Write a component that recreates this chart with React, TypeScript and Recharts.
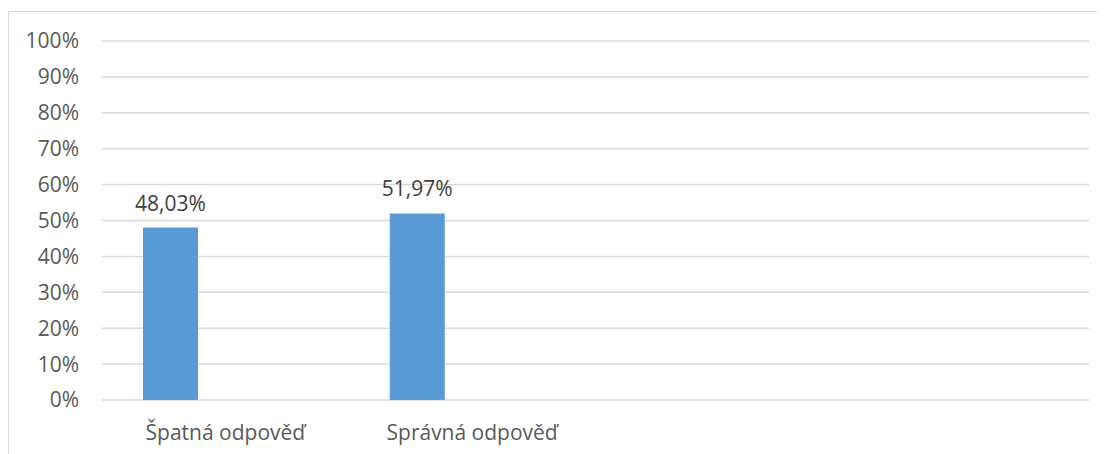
import { BarChart, Bar, XAxis, YAxis, CartesianGrid, LabelList } from 'recharts';

// kategorie (poslední dvě jsou prázdné, jako v originále)
const categories = ['Špatná odpověď', 'Správná odpověď', '', ''];
const series1 = [48.03, 51.97, null, null];
const series2 = [null, null, null, null];
const series3 = [null, null, null, null];
const yTicks = [0, 10, 20, 30, 40, 50, 60, 70, 80, 90, 100];

const data = categories.map((name, i) => ({
  name,
  s1: series1[i],
  s2: series2[i],
  s3: series3[i],
}));

const FONT = '"Open Sans", sans-serif';

function fmtLabel(v: unknown) {
  if (v == null) return '';
  return `${Number(v).toFixed(2).replace('.', ',')}%`;
}

export default function App() {
  return (
    <div style={{
      marginTop: 3,
      width: 1097,
      height: 443,
      borderTop: '1px solid #d9d9d9',
      borderLeft: '1px solid #d9d9d9',
      background: '#fff',
      overflow: 'hidden',
    }}>
      <BarChart width={1096} height={442} data={data}
        margin={{ top: 29, right: 16, left: 0, bottom: 0 }}
        barGap={0}>
        <CartesianGrid stroke="#d9d9d9" strokeWidth={1.5} vertical={false} />
        <XAxis dataKey="name" height={54} axisLine={false} tickLine={false}
          tickMargin={19} interval={0}
          tick={{ fill: '#595959', fontSize: 21, fontFamily: FONT }} />
        <YAxis width={93} domain={[0, 100]} ticks={yTicks} axisLine={false} tickLine={false}
          tickMargin={17} tickFormatter={v => `${v}%`}
          tick={{ fill: '#595959', fontSize: 21, fontFamily: FONT }} />
        <Bar dataKey="s1" fill="#5b9bd5" barSize={55} isAnimationActive={false}>
          <LabelList dataKey="s1" position="top" offset={17} formatter={fmtLabel}
            style={{ fill: '#404040', fontSize: 21, fontFamily: FONT }} />
        </Bar>
        <Bar dataKey="s2" fill="#ed7d31" barSize={55} isAnimationActive={false} />
        <Bar dataKey="s3" fill="#a5a5a5" barSize={55} isAnimationActive={false} />
      </BarChart>
    </div>
  );
}
